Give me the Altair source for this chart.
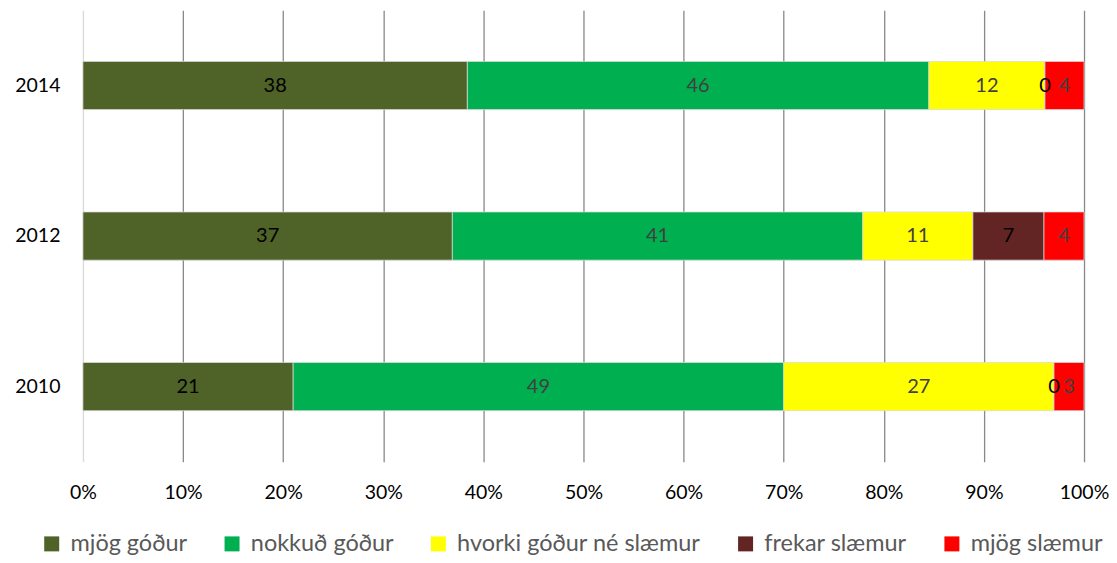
import altair as alt
import pandas as pd

years = ["2014", "2012", "2010"]
categories = ["mjög góður", "nokkuð góður", "hvorki góður né slæmur", "frekar slæmur", "mjög slæmur"]
colors = ["#4F6228", "#00B050", "#FFFF00", "#632523", "#FF0000"]
text_colors = ["#000000", "#404040", "#404040", "#000000", "#404040"]

values_2014 = [38.4, 46.1, 11.6, 0.0, 3.9]
values_2012 = [36.9, 41.0, 11.0, 7.1, 4.0]
values_2010 = [21.0, 49.0, 27.0, 0.0, 3.0]
labels_2014 = ["38", "46", "12", "0", "4"]
labels_2012 = ["37", "41", "11", "7", "4"]
labels_2010 = ["21", "49", "27", "0", "3"]

rows = []
for y, vals, labs in [("2014", values_2014, labels_2014),
                      ("2012", values_2012, labels_2012),
                      ("2010", values_2010, labels_2010)]:
    for k, (c, v, l) in enumerate(zip(categories, vals, labs)):
        rows.append({"year": y, "cat": c, "value": v, "label": l, "k": k, "tc": text_colors[k]})
df = pd.DataFrame(rows)

FONT = "Lato"

y_enc = alt.Y("year:N", sort=years, title=None,
              scale=alt.Scale(paddingInner=0.68, paddingOuter=0.34),
              axis=alt.Axis(labelFontSize=19.5, labelColor="#000000", labelFont=FONT,
                            ticks=False, domain=False, grid=False, labelPadding=23,
                            minExtent=60))

x_scale = alt.Scale(domain=[0, 100], nice=False, zero=True)

bars = alt.Chart(df).mark_bar(stroke="#d9d9d9", strokeWidth=0.75).encode(
    x=alt.X("value:Q", stack="zero", scale=x_scale, title=None,
            axis=alt.Axis(values=list(range(0, 101, 10)), labelExpr="datum.value + '%'",
                          labelFontSize=19.5, labelColor="#000000", labelFont=FONT,
                          ticks=False, domain=False, labelPadding=22, labelFlush=False,
                          grid=True,
                          gridColor=alt.condition("datum.value == 0", alt.value("#d9d9d9"), alt.value("#888888")),
                          gridWidth=1.3)),
    y=y_enc,
    color=alt.Color("cat:N", sort=categories,
                    scale=alt.Scale(domain=categories, range=colors),
                    legend=alt.Legend(title=None, orient="none", legendX=-43, legendY=522,
                                      direction="horizontal", padding=0,
                                      columns=5, symbolType="square", symbolSize=225,
                                      symbolStrokeWidth=0, labelFontSize=23.5, labelFont=FONT,
                                      labelColor="#595959", columnPadding=32.5, labelOffset=7,
                                      labelLimit=400)),
    order=alt.Order("k:Q", sort="ascending"),
)

texts = alt.Chart(df).transform_stack(
    stack="value", groupby=["year"], as_=["x0", "x1"], sort=[alt.SortField("k", "ascending")]
).transform_calculate(
    mid="(datum.x0 + datum.x1) / 2"
).mark_text(fontSize=20, font=FONT, baseline="middle", align="center").encode(
    x=alt.X("mid:Q", scale=x_scale),
    y=alt.Y("year:N", sort=years),
    text="label:N",
    color=alt.Color("tc:N", scale=None),
)

chart = alt.layer(bars, texts).properties(
    width=1002, height=452,
    padding={"left": 6, "top": 2, "right": 0, "bottom": 0},
).configure_view(stroke=None).configure_axis(labelFont=FONT)

chart.save("out.html", embed_options={"renderer": "svg", "actions": False})
